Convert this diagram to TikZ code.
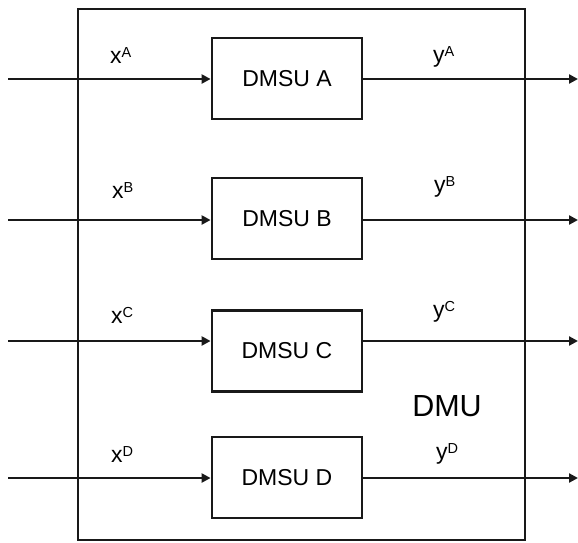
\documentclass[tikz,border=0pt]{standalone}
\usepackage{fontspec}
\setmainfont{Liberation Sans}
\usetikzlibrary{arrows.meta}

% etichetta con apice
\newcommand{\lbl}[2]{#1\raisebox{6pt}{\fontsize{14.5}{15}\selectfont #2}}

\begin{document}
\begin{tikzpicture}[x=1pt,y=-1pt,
  linea/.style={line width=2.5pt, draw=black!90},
  freccia/.style={linea, -{Triangle[length=9pt,width=9pt]}},
  blocco/.style={draw=black!90, line width=2.8pt, minimum width=150pt,
    minimum height=81pt, inner sep=0pt, font=\fontsize{23}{27}\selectfont},
  etich/.style={anchor=base west, inner sep=0pt, font=\fontsize{23}{27}\selectfont}]

\useasboundingbox (0,0) rectangle (578,542);

% Contenitore DMU
\draw[line width=2.8pt, draw=black!90] (78,9) rectangle (525,540);
\node[font=\fontsize{30.5}{34}\selectfont] (dmu) at (447,406) {DMU};

% Sottounita
\node[blocco] (dmsuA) at (287,78.5) {DMSU A};
\node[blocco] (dmsuB) at (287,218.5) {DMSU B};
\node[blocco] (dmsuC) at (287,351) {DMSU C};
\node[blocco] (dmsuD) at (287,477.5) {DMSU D};

% Estremi liberi delle frecce
\coordinate (inA) at (8,79);   \coordinate (outA) at (578,79);
\coordinate (inB) at (8,220);  \coordinate (outB) at (578,220);
\coordinate (inC) at (8,341);  \coordinate (outC) at (578,341);
\coordinate (inD) at (8,478);  \coordinate (outD) at (578,478);

% Ingressi
\draw[freccia] (inA) -- (inA -| dmsuA.west);
\draw[freccia] (inB) -- (inB -| dmsuB.west);
\draw[freccia] (inC) -- (inC -| dmsuC.west);
\draw[freccia] (inD) -- (inD -| dmsuD.west);

% Uscite
\draw[freccia] (outA -| dmsuA.east) -- (outA);
\draw[freccia] (outB -| dmsuB.east) -- (outB);
\draw[freccia] (outC -| dmsuC.east) -- (outC);
\draw[freccia] (outD -| dmsuD.east) -- (outD);

% Etichette
\node[etich] (xA) at (110,63) {\lbl{x}{A}};
\node[etich] (yA) at (433,62) {\lbl{y}{A}};
\node[etich] (xB) at (112,198) {\lbl{x}{B}};
\node[etich] (yB) at (434,192) {\lbl{y}{B}};
\node[etich] (xC) at (111,323) {\lbl{x}{C}};
\node[etich] (yC) at (433,317) {\lbl{y}{C}};
\node[etich] (xD) at (111,462) {\lbl{x}{D}};
\node[etich] (yD) at (436,459) {\lbl{y}{D}};

\end{tikzpicture}
\end{document}
